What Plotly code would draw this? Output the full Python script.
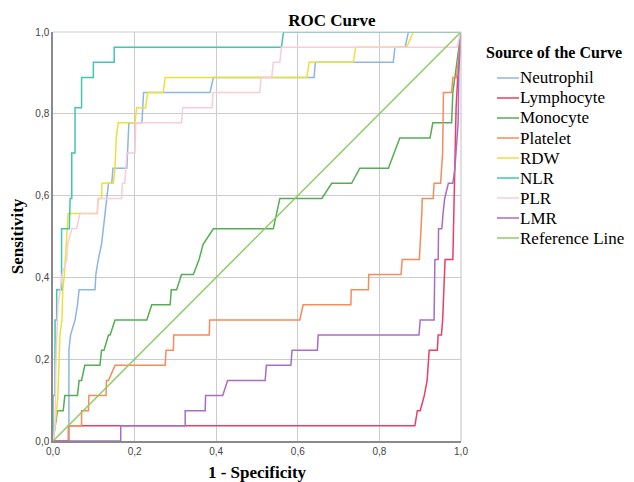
import plotly.graph_objects as go

# ---------------- data (1 - specificity, sensitivity) ----------------
series_names = ["Neutrophil", "Lymphocyte", "Monocyte", "Platelet", "RDW",
                "NLR", "PLR", "LMR", "Reference Line"]

neutrophil_x = [0, 0.039, 0.039, 0.043, 0.054, 0.060, 0.064, 0.103, 0.105, 0.111, 0.119, 0.123, 0.127, 0.132,
                0.136, 0.144, 0.147, 0.181, 0.186, 0.218, 0.222, 0.385, 0.393, 0.640, 0.643, 0.834, 0.838,
                0.863, 0.871, 1.0]
neutrophil_y = [0, 0, 0.222, 0.259, 0.296, 0.333, 0.370, 0.370, 0.407, 0.444, 0.481, 0.519, 0.556, 0.593,
                0.630, 0.630, 0.667, 0.667, 0.778, 0.778, 0.852, 0.852, 0.889, 0.889, 0.926, 0.926, 0.963,
                0.963, 1.0, 1.0]

lymphocyte_x = [0, 0.038, 0.038, 0.887, 0.893, 0.900, 0.910, 0.917, 0.922, 0.942, 0.944, 0.952, 0.955,
                0.958, 0.961, 0.980, 0.982, 0.985, 0.988, 0.992, 0.996, 1.0]
lymphocyte_y = [0, 0, 0.037, 0.037, 0.074, 0.074, 0.111, 0.148, 0.222, 0.222, 0.259, 0.259, 0.296,
                0.370, 0.444, 0.444, 0.556, 0.667, 0.815, 0.889, 0.926, 1.0]

monocyte_x = [0, 0.005, 0.011, 0.025, 0.029, 0.060, 0.064, 0.070, 0.078, 0.115, 0.119, 0.125, 0.136, 0.140,
              0.152, 0.230, 0.242, 0.287, 0.290, 0.303, 0.315, 0.344, 0.358, 0.368, 0.393, 0.540, 0.556,
              0.659, 0.683, 0.732, 0.752, 0.822, 0.850, 0.924, 0.931, 0.977, 0.980, 0.985, 0.990, 1.0]
monocyte_y = [0, 0.037, 0.074, 0.074, 0.111, 0.111, 0.148, 0.148, 0.185, 0.185, 0.222, 0.222, 0.259, 0.259,
              0.296, 0.296, 0.333, 0.333, 0.370, 0.370, 0.407, 0.407, 0.444, 0.481, 0.519, 0.519, 0.593,
              0.593, 0.630, 0.630, 0.667, 0.667, 0.741, 0.741, 0.778, 0.778, 0.852, 0.889, 0.926, 1.0]

platelet_x = [0, 0.038, 0.038, 0.070, 0.070, 0.087, 0.088, 0.130, 0.131, 0.136, 0.152, 0.275, 0.277, 0.295,
              0.296, 0.383, 0.384, 0.605, 0.613, 0.730, 0.731, 0.773, 0.774, 0.853, 0.856, 0.898, 0.904,
              0.905, 0.932, 0.934, 0.950, 0.952, 0.955, 0.957, 0.977, 0.980, 0.989, 0.993, 1.0]
platelet_y = [0, 0, 0.037, 0.037, 0.074, 0.074, 0.111, 0.111, 0.148, 0.148, 0.185, 0.185, 0.222, 0.222,
              0.259, 0.259, 0.296, 0.296, 0.333, 0.333, 0.370, 0.370, 0.407, 0.407, 0.444, 0.444, 0.556,
              0.593, 0.593, 0.630, 0.630, 0.667, 0.704, 0.852, 0.852, 0.889, 0.889, 0.926, 1.0]

rdw_x = [0, 0.005, 0.009, 0.012, 0.014, 0.017, 0.022, 0.024, 0.028, 0.030, 0.033, 0.035, 0.037, 0.108,
         0.111, 0.119, 0.120, 0.148, 0.152, 0.155, 0.160, 0.201, 0.205, 0.227, 0.232, 0.270, 0.275, 0.622,
         0.628, 0.736, 0.742, 0.867, 0.883, 1.0]
rdw_y = [0, 0.037, 0.074, 0.111, 0.185, 0.259, 0.296, 0.370, 0.407, 0.444, 0.481, 0.519, 0.556, 0.556,
         0.593, 0.593, 0.630, 0.630, 0.667, 0.741, 0.778, 0.778, 0.815, 0.815, 0.852, 0.852, 0.889, 0.889,
         0.926, 0.926, 0.963, 0.963, 1.0, 1.0]

nlr_x = [0, 0.0, 0.005, 0.005, 0.009, 0.009, 0.021, 0.021, 0.040, 0.042, 0.046, 0.046, 0.054, 0.054,
         0.070, 0.070, 0.099, 0.099, 0.150, 0.150, 0.560, 0.565, 1.0]
nlr_y = [0, 0.111, 0.111, 0.296, 0.296, 0.370, 0.370, 0.519, 0.519, 0.593, 0.593, 0.704, 0.704, 0.815,
         0.815, 0.889, 0.889, 0.926, 0.926, 0.963, 0.963, 1.0, 1.0]

plr_x = [0, 0.005, 0.007, 0.010, 0.012, 0.018, 0.022, 0.034, 0.036, 0.046, 0.058, 0.066, 0.109, 0.110,
         0.168, 0.170, 0.176, 0.181, 0.201, 0.203, 0.315, 0.318, 0.390, 0.392, 0.507, 0.510, 0.536, 0.540,
         0.556, 0.560, 0.990, 1.0]
plr_y = [0, 0.037, 0.185, 0.259, 0.333, 0.370, 0.407, 0.444, 0.481, 0.519, 0.519, 0.556, 0.556, 0.593,
         0.593, 0.630, 0.630, 0.704, 0.704, 0.778, 0.778, 0.815, 0.815, 0.852, 0.852, 0.889, 0.889, 0.926,
         0.926, 0.963, 0.963, 1.0]

lmr_x = [0, 0.166, 0.166, 0.324, 0.324, 0.373, 0.374, 0.416, 0.428, 0.520, 0.523, 0.583, 0.586, 0.648,
         0.650, 0.897, 0.900, 0.934, 0.936, 0.944, 0.945, 0.953, 0.956, 0.960, 0.969, 0.980, 0.985, 0.993,
         0.995, 1.0]
lmr_y = [0, 0, 0.037, 0.037, 0.074, 0.074, 0.111, 0.111, 0.148, 0.148, 0.185, 0.185, 0.222, 0.222,
         0.259, 0.259, 0.296, 0.296, 0.444, 0.444, 0.519, 0.519, 0.556, 0.593, 0.630, 0.630, 0.667, 0.778,
         0.926, 1.0]

reference_x = [0, 1]
reference_y = [0, 1]

tick_values = [0, 0.2, 0.4, 0.6, 0.8, 1.0]
tick_labels = ["0,0", "0,2", "0,4", "0,6", "0,8", "1,0"]

# ---------------- styles ----------------
colors = ["#8cb6e6", "#ec3d67", "#55ad55", "#f88b5a", "#e8e23a",
          "#44c4b2", "#f9ccd8", "#a96cc8", "#8ccd64"]
xs = [neutrophil_x, lymphocyte_x, monocyte_x, platelet_x, rdw_x, nlr_x, plr_x, lmr_x, reference_x]
ys = [neutrophil_y, lymphocyte_y, monocyte_y, platelet_y, rdw_y, nlr_y, plr_y, lmr_y, reference_y]

SERIF = "Liberation Serif, Times New Roman, serif"
SANS = "Liberation Sans, Arial, sans-serif"

OFF = 8                      # page body margin: figure starts at (8, 8) in the window
W, H = 634 - OFF, 482 - OFF  # figure size so that it ends at the window edge
# plot area in window pixels
L, R, T, B = 53, 461, 32, 441

def px_x(p):
    return (p - L) / (R - L)

def px_y(p):
    return (B - p) / (B - T)

fig = go.Figure()
for name, x, y, c in zip(series_names, xs, ys, colors):
    fig.add_trace(go.Scatter(x=x, y=y, mode="lines", name=name,
                             line=dict(color=c, width=1.5), showlegend=False))

axis_common = dict(range=[0, 1], tickvals=tick_values, ticktext=tick_labels,
                   showgrid=True, gridcolor="#cccccc", gridwidth=1.2,
                   showline=True, linecolor="#8a8a8a", linewidth=1.5,
                   zeroline=False, ticks="", ticklen=0,
                   tickfont=dict(family=SANS, size=10, color="#444444"))

fig.update_layout(
    width=W, height=H,
    margin=dict(l=L - OFF, r=W - (R - OFF), t=T - OFF, b=H - (B - OFF), autoexpand=False),
    paper_bgcolor="white", plot_bgcolor="white",
    title=dict(text="<b>ROC Curve</b>", font=dict(family=SERIF, size=17, color="black"),
               x=(332 - OFF) / W, xref="container", xanchor="center",
               y=1 - (20 - OFF) / H, yref="container", yanchor="middle"),
    xaxis=dict(axis_common, title=dict(text="<b>1 - Specificity</b>", standoff=12,
                                       font=dict(family=SERIF, size=17, color="black"))),
    yaxis=dict(axis_common, title=dict(text="<b>Sensitivity</b>", standoff=8,
                                       font=dict(family=SERIF, size=17, color="black"))),
)

# light border on top and right (same tone as grid)
fig.add_shape(type="line", xref="paper", yref="paper", x0=0, x1=1, y0=1, y1=1,
              line=dict(color="#cccccc", width=1.2))
fig.add_shape(type="line", xref="paper", yref="paper", x0=1, x1=1, y0=0, y1=1,
              line=dict(color="#cccccc", width=1.2))

# custom legend (title + entries)
fig.add_annotation(text="<b>Source of the Curve</b>", xref="paper", yref="paper",
                   x=px_x(484), y=px_y(52), xanchor="left", yanchor="middle",
                   showarrow=False, font=dict(family=SERIF, size=16, color="black"))
for i, (name, c) in enumerate(zip(series_names, colors)):
    yy = 78 + 20 * i
    fig.add_shape(type="line", xref="paper", yref="paper",
                  x0=px_x(497), x1=px_x(519), y0=px_y(yy), y1=px_y(yy),
                  line=dict(color=c, width=1.5))
    fig.add_annotation(text=name, xref="paper", yref="paper",
                       x=px_x(518), y=px_y(yy), xanchor="left", yanchor="middle",
                       showarrow=False, font=dict(family=SERIF, size=17, color="black"))

fig.write_html("out.html")
